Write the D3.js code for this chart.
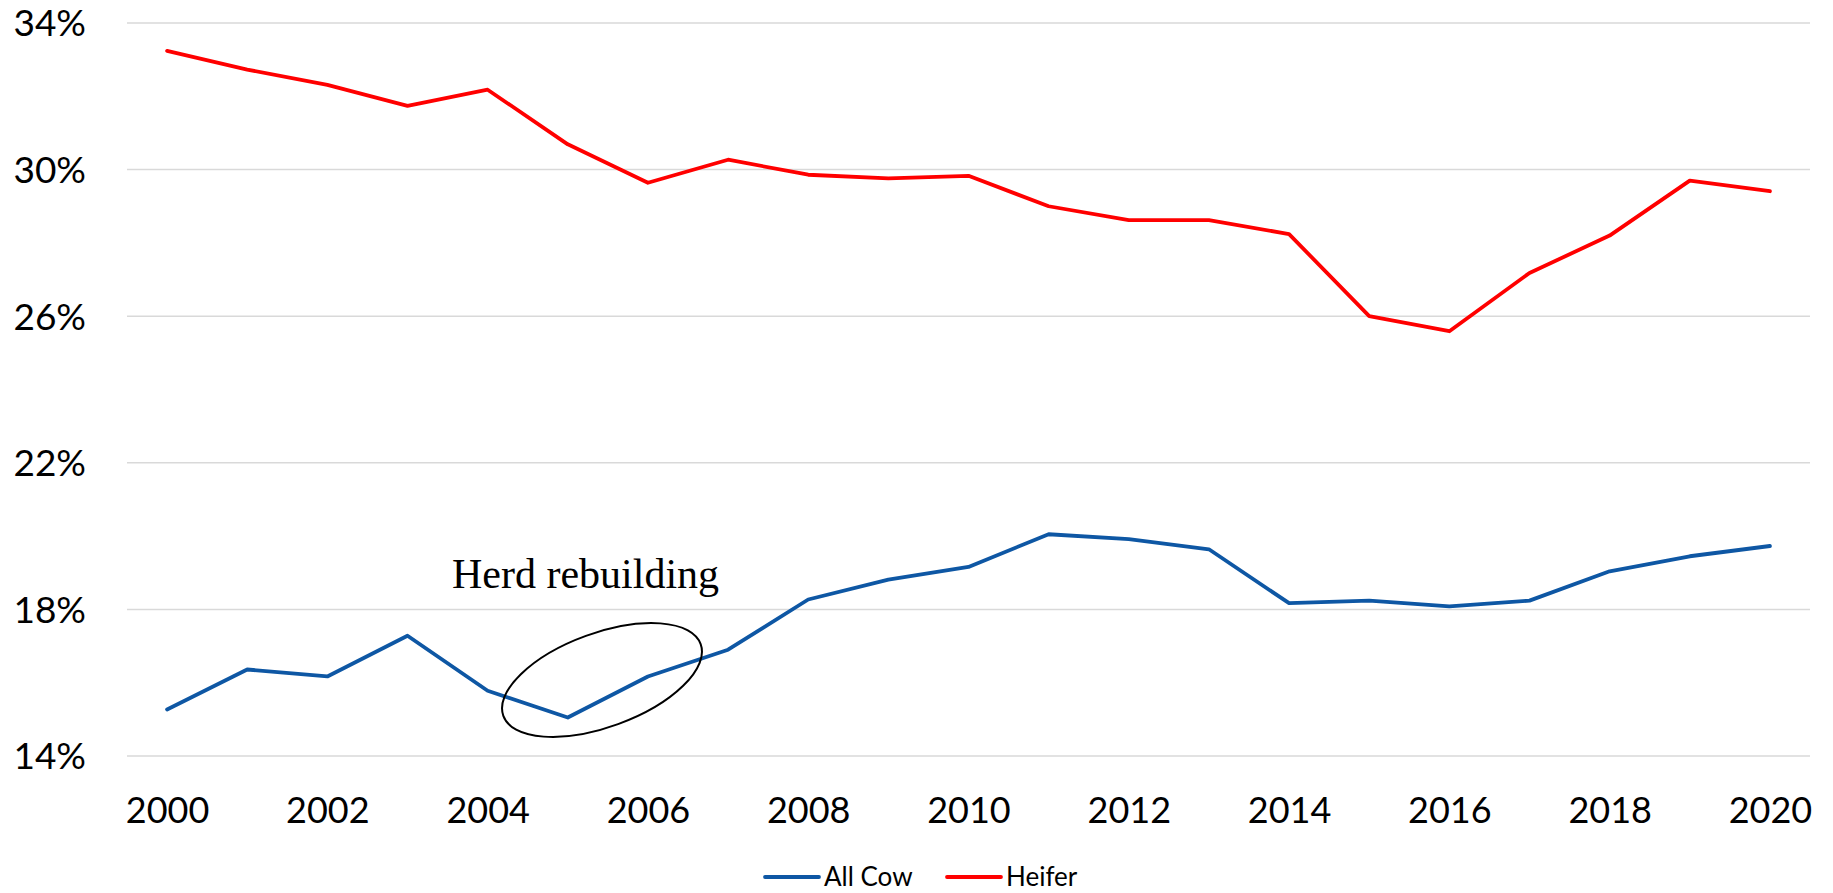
<!doctype html>
<html>
<head>
<meta charset="utf-8">
<style>
body { margin: 0; background: #fff; }
#chart text { font-family: Lato, "Open Sans", sans-serif; fill: #000; }
.grid line { stroke: #d9d9d9; stroke-width: 1.5; }
.note { font-family: "Liberation Serif", "Times New Roman", serif !important; }
</style>
</head>
<body>
<div id="chart"></div>
<script src="https://cdn.jsdelivr.net/npm/d3@7/dist/d3.min.js"></script>
<script>
// data (percent)
var years = d3.range(2000, 2021);
var allCow = [15.27, 16.36, 16.17, 17.28, 15.78, 15.05, 16.17, 16.90, 18.27, 18.81, 19.16,
              20.05, 19.92, 19.64, 18.17, 18.24, 18.08, 18.24, 19.04, 19.45, 19.73];
var heifer = [33.24, 32.73, 32.31, 31.74, 32.18, 30.69, 29.64, 30.27, 29.86, 29.76, 29.83,
              29.00, 28.62, 28.62, 28.24, 26.00, 25.59, 27.18, 28.20, 29.70, 29.41];
var yTicks = [14, 18, 22, 26, 30, 34];
var xTicks = d3.range(2000, 2021, 2);
var seriesNames = ['All Cow', 'Heifer'];
var seriesColors = ['#0e57a4', '#ff0000'];
</script>
<script>
var width = 1833, height = 893;
var plotLeft = 127, plotRight = 1810, plotTop = 23, plotBottom = 756;

var svg = d3.select('#chart').append('svg')
    .attr('width', width)
    .attr('height', height)
    .style('display', 'block');

var x = d3.scalePoint().domain(years).range([plotLeft, plotRight]).padding(0.5);
var y = d3.scaleLinear().domain([14, 34]).range([plotBottom, plotTop]);

// gridlines
svg.append('g').attr('class', 'grid')
    .selectAll('line').data(yTicks).enter().append('line')
    .attr('x1', plotLeft).attr('x2', plotRight)
    .attr('y1', function (d) { return y(d); })
    .attr('y2', function (d) { return y(d); });

// y labels
svg.append('g').selectAll('text').data(yTicks).enter().append('text')
    .attr('x', 86)
    .attr('y', function (d) { return y(d); })
    .attr('dy', '0.36em')
    .attr('text-anchor', 'end')
    .style('font-size', '37px')
    .text(function (d) { return d + '%'; });

// x axis labels
var xAxis = d3.axisBottom(x).tickValues(xTicks).tickSize(0).tickPadding(0)
    .tickFormat(d3.format('d'));
var gx = svg.append('g').attr('transform', 'translate(0,' + 810 + ')').call(xAxis);
gx.select('.domain').remove();
gx.selectAll('text')
    .attr('y', 0).attr('dy', '0.36em')
    .style('font-size', '36px')
    .style('font-family', 'Lato, "Open Sans", sans-serif')
    .attr('fill', '#000');

// lines
var line = d3.line()
    .x(function (d, i) { return x(years[i]); })
    .y(function (d) { return y(d); });

[allCow, heifer].forEach(function (s, i) {
    svg.append('path')
        .datum(s)
        .attr('d', line)
        .attr('fill', 'none')
        .attr('stroke', seriesColors[i])
        .attr('stroke-width', 3.8)
        .attr('stroke-linejoin', 'round')
        .attr('stroke-linecap', 'round');
});

// annotation
svg.append('text')
    .attr('class', 'note')
    .attr('x', 452).attr('y', 588)
    .style('font-size', '42px')
    .text('Herd rebuilding');

svg.append('ellipse')
    .attr('cx', 602).attr('cy', 680)
    .attr('rx', 105).attr('ry', 47)
    .attr('transform', 'rotate(-20,602,680)')
    .attr('fill', 'none')
    .attr('stroke', '#000')
    .attr('stroke-width', 2);

// legend
var legendX = [765, 947];
var lg = svg.append('g').selectAll('g').data(seriesNames).enter().append('g')
    .attr('transform', function (d, i) { return 'translate(' + legendX[i] + ',877)'; });
lg.append('line')
    .attr('x1', 0).attr('x2', 54)
    .attr('stroke', function (d, i) { return seriesColors[i]; })
    .attr('stroke-width', 3.8)
    .attr('stroke-linecap', 'round');
lg.append('text')
    .attr('x', 59)
    .attr('dy', '0.36em')
    .style('font-size', '26px')
    .text(function (d) { return d; });
</script>
</body>
</html>
